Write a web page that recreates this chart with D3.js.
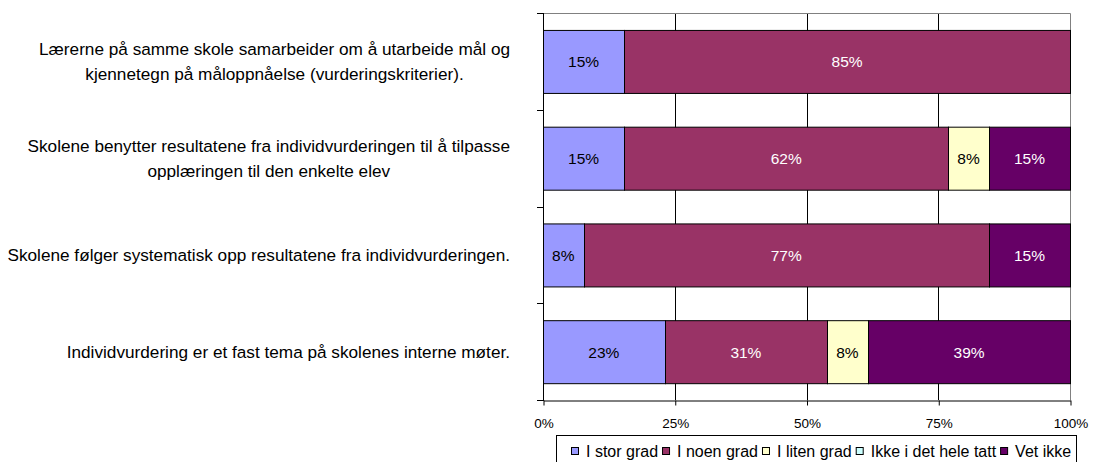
<!DOCTYPE html>
<html>
<head>
<meta charset="utf-8">
<script src="https://cdn.jsdelivr.net/npm/d3@7"></script>
<style>
  body { margin: 0; background: #fff; }
  svg { font-family: "Liberation Sans", Arial, sans-serif; }
</style>
</head>
<body>
<div id="chart"></div>
<script>
var questions = [
  ['Lærerne på samme skole samarbeider om å utarbeide mål og', 'kjennetegn på måloppnåelse (vurderingskriterier).'],
  ['Skolene benytter resultatene fra individvurderingen til å tilpasse', 'opplæringen til den enkelte elev'],
  ['Skolene følger systematisk opp resultatene fra individvurderingen.'],
  ['Individvurdering er et fast tema på skolenes interne møter.']
];
var seriesNames = ['I stor grad', 'I noen grad', 'I liten grad', 'Ikke i det hele tatt', 'Vet ikke'];
var colors = ['#9999FF', '#993366', '#FFFFCC', '#CCFFFF', '#660066'];
var textColors = ['#000', '#fff', '#000', '#000', '#fff'];
// percent per question, in series order
var values = [
  [15.4, 84.6, 0, 0, 0],
  [15.4, 61.5, 7.7, 0, 15.4],
  [7.7, 76.9, 0, 0, 15.4],
  [23.1, 30.8, 7.7, 0, 38.5]
];
var ticks = [0, 25, 50, 75, 100];

var W = 1093, H = 462;
var margin = {top: 13, right: 23, bottom: 62, left: 543};
var width = W - margin.left - margin.right,
    height = H - margin.top - margin.bottom;

var svg = d3.select('#chart').append('svg')
    .attr('width', W)
    .attr('height', H);

var chart = svg.append('g')
    .attr('transform', 'translate(' + margin.left + ',' + margin.top + ')');

var xScale = d3.scaleLinear().domain([0, 100]).range([0, width]).clamp(true);
var yScale = d3.scaleBand()
    .domain(d3.range(questions.length))
    .range([0, height])
    .paddingInner(0.35)
    .paddingOuter(0.175);
var bandStep = height / questions.length;

// gridlines
chart.selectAll('.grid')
  .data([25, 50, 75])
  .enter().append('line')
    .attr('x1', function(d) { return Math.round(xScale(d)) + 0.5; })
    .attr('x2', function(d) { return Math.round(xScale(d)) + 0.5; })
    .attr('y1', 0)
    .attr('y2', height)
    .style('stroke', '#000')
    .style('stroke-width', 1);

// top & right border
chart.append('path')
    .attr('d', 'M0,0.5H' + (width + 0.5) + 'V' + height)
    .style('fill', 'none')
    .style('stroke', '#808080');

// stacked bars
var rows = chart.selectAll('.row')
  .data(values)
  .enter().append('g')
    .attr('class', 'row')
    .attr('transform', function(d, i) { return 'translate(0,' + yScale(i) + ')'; });

rows.each(function(row) {
  var g = d3.select(this);
  var start = 0;
  var segs = [];
  row.forEach(function(v, j) {
    if (v > 0) segs.push({x0: start, x1: start + v, v: v, s: j});
    start += v;
  });
  g.selectAll('rect')
    .data(segs)
    .enter().append('rect')
      .attr('x', function(d) { return Math.round(xScale(d.x0)) + 0.5; })
      .attr('width', function(d) { return Math.round(xScale(d.x1)) - Math.round(xScale(d.x0)); })
      .attr('y', 0.5)
      .attr('height', Math.round(yScale.bandwidth()))
      .style('fill', function(d) { return colors[d.s]; })
      .style('stroke', '#000')
      .style('stroke-width', 1);
  g.selectAll('text')
    .data(segs)
    .enter().append('text')
      .attr('x', function(d) { return xScale((d.x0 + d.x1) / 2); })
      .attr('y', yScale.bandwidth() / 2 + 6)
      .attr('text-anchor', 'middle')
      .style('font-size', '15.5px')
      .style('fill', function(d) { return textColors[d.s]; })
      .text(function(d) { return Math.round(d.v) + '%'; });
});

// left axis line with ticks at category boundaries
chart.append('line')
    .attr('x1', 0.5).attr('x2', 0.5)
    .attr('y1', 0).attr('y2', height + 1)
    .style('stroke', '#000');
chart.selectAll('.ytick')
  .data(d3.range(questions.length + 1))
  .enter().append('line')
    .attr('x1', -6).attr('x2', 0)
    .attr('y1', function(d) { return Math.round(d * bandStep) + 0.5; })
    .attr('y2', function(d) { return Math.round(d * bandStep) + 0.5; })
    .style('stroke', '#000');

// bottom axis
var xAxis = chart.append('g')
    .attr('transform', 'translate(0.5,' + (height + 0.5) + ')')
    .call(d3.axisBottom(xScale).tickValues(ticks).tickSize(5).tickSizeOuter(0)
      .tickFormat(function(d) { return d + '%'; }));
xAxis.select('.domain').style('stroke', '#000');
xAxis.selectAll('.tick line').style('stroke', '#000');
xAxis.selectAll('.tick text')
    .attr('y', 23)
    .attr('dy', '0.32em')
    .style('font-size', '13.5px')
    .style('font-family', '"Liberation Sans", Arial, sans-serif')
    .style('fill', '#000');

// category labels, right aligned block, centred lines
var labelRight = 510 - margin.left;
questions.forEach(function(lines, i) {
  var cy = (i + 0.5) * bandStep;
  var lineH = 25;
  var grp = chart.append('g');
  var texts = grp.selectAll('text')
    .data(lines)
    .enter().append('text')
      .style('font-size', '17.2px')
      .style('fill', '#000')
      .attr('text-anchor', 'middle')
      .attr('y', function(d, k) { return cy + (k - (lines.length - 1) / 2) * lineH + 6; })
      .text(function(d) { return d; });
  var maxW = 0;
  texts.each(function() { maxW = Math.max(maxW, this.getComputedTextLength()); });
  texts.attr('x', labelRight - maxW / 2);
});

// legend
var legend = svg.append('g');
legend.append('rect')
    .attr('x', 556.5).attr('y', 435.5)
    .attr('width', 520).attr('height', 30)
    .style('fill', '#fff')
    .style('stroke', '#000');
var lx = 571;
seriesNames.forEach(function(name, i) {
  legend.append('rect')
      .attr('x', lx + 0.5).attr('y', 447.5)
      .attr('width', 7).attr('height', 7)
      .style('fill', colors[i])
      .style('stroke', '#000');
  var t = legend.append('text')
      .attr('x', lx + 15)
      .attr('y', 457)
      .style('font-size', '16px')
      .style('fill', '#000')
      .text(name);
  lx += 15 + t.node().getComputedTextLength() + 4;
});
</script>
</body>
</html>
